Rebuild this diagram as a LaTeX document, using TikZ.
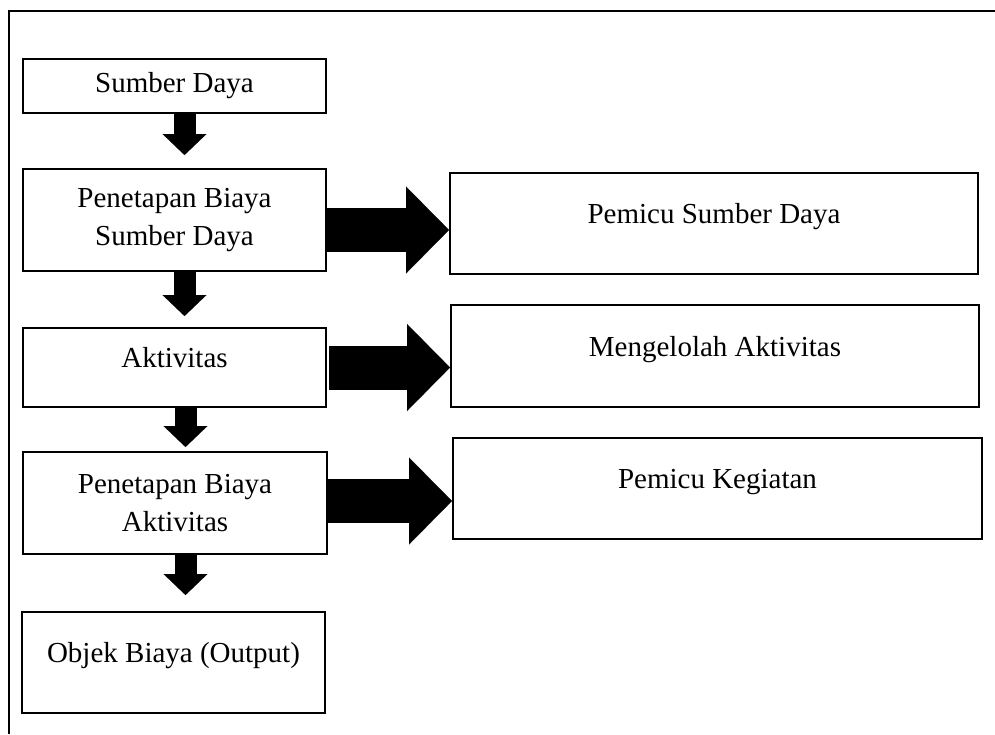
\documentclass[tikz,border=0pt]{standalone}
\usepackage{fontspec}
\setmainfont{Liberation Serif}
\usetikzlibrary{arrows.meta}

\begin{document}
\begin{tikzpicture}[x=1pt, y=-1pt,
		flowbox/.style={draw, line width=2pt, align=center, inner sep=0pt, font=\fontsize{29}{38}\selectfont},
		upperbox/.style={flowbox, text height=20pt, text depth=20pt},
		downarr/.style={line width=22pt, -{Triangle[length=21pt, width=44pt, line width=0.1pt]}},
		sidearr/.style={line width=44pt, -{Triangle[length=43pt, width=87pt, line width=0.1pt]}}]

		\useasboundingbox (0,0) rectangle (995,734);

		% Frame
		\draw[line width=2.5pt] (9,734) -- (9,11) -- (995,11);

		% Left column
		\node[flowbox, minimum width=303pt, minimum height=54pt] (sd) at (174.5,86) {Sumber Daya};
		\node[flowbox, minimum width=303pt, minimum height=102pt] (psd) at (174.5,220) {Penetapan Biaya\\Sumber Daya};
		\node[upperbox, minimum width=303pt, minimum height=79pt] (akt) at (174.5,367.5) {Aktivitas};
		\node[flowbox, minimum width=304pt, minimum height=102pt] (pba) at (175,503) {Penetapan Biaya\\Aktivitas};
		\node[upperbox, minimum width=303pt, minimum height=101pt] (obj) at (173.5,662.5) {Objek Biaya (Output)};

		% Right column
		\node[upperbox, minimum width=528pt, minimum height=101pt] (psr) at (714,223.5) {Pemicu Sumber Daya};
		\node[upperbox, minimum width=528pt, minimum height=102pt] (mak) at (715,356) {Mengelolah Aktivitas};
		\node[upperbox, minimum width=529pt, minimum height=101pt] (pkg) at (717.5,488.5) {Pemicu Kegiatan};

		% Down arrows
		\draw[downarr, shorten >=13pt] ([xshift=10pt]sd.south) -- ([xshift=10pt]sd.south |- psd.north);
		\draw[downarr, shorten >=11pt] ([xshift=10pt]psd.south) -- ([xshift=10pt]psd.south |- akt.north);
		\draw[downarr, shorten >=4pt] ([xshift=11pt]akt.south) -- ([xshift=11pt]akt.south |- pba.north);
		\draw[downarr, shorten >=16pt] ([xshift=10.5pt]pba.south) -- ([xshift=10.5pt]pba.south |- obj.north);

		% Side arrows
		\draw[sidearr] ([yshift=-10pt]psd.east) -- ([yshift=-10pt]psd.east -| psr.west);
		\draw[sidearr] ([xshift=2pt]akt.east) -- (akt.east -| mak.west);
		\draw[sidearr] ([yshift=2pt]pba.east) -- ([yshift=2pt]pba.east -| pkg.west);
	\end{tikzpicture}
\end{document}
